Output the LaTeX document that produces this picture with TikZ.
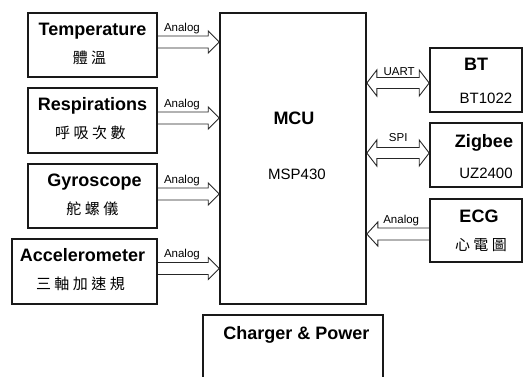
\documentclass[tikz,border=0pt]{standalone}
\usepackage{fontspec}
\setmainfont{Liberation Sans}
\newfontfamily\cjk{Noto Sans CJK TC}
\usetikzlibrary{calc}
\newcommand\cs{\hspace{3.5pt}}
% single block arrow, head at #2 pointing right
\newcommand\fatright[2]{\draw[arr] let \p1=(#1), \p2=(#2) in
  (\x1,\y1+6pt) -- (\x2-11pt,\y1+6pt) -- (\x2-11pt,\y1+11pt) -- (\x2,\y1)
  -- (\x2-11pt,\y1-11pt) -- (\x2-11pt,\y1-6pt) -- (\x1,\y1-6pt);}
% single block arrow, head at #2 pointing left
\newcommand\fatleft[2]{\draw[arr] let \p1=(#1), \p2=(#2) in
  (\x1,\y1+6pt) -- (\x2+11pt,\y1+6pt) -- (\x2+11pt,\y1+12pt) -- (\x2,\y1)
  -- (\x2+11pt,\y1-12pt) -- (\x2+11pt,\y1-6pt) -- (\x1,\y1-6pt);}
% double block arrow between #1 (left) and #2 (right)
\newcommand\fatboth[2]{\draw[arr] let \p1=(#1), \p2=(#2) in
  (\x1,\y1) -- (\x1+10pt,\y1+13pt) -- (\x1+10pt,\y1+5.5pt) -- (\x2-10pt,\y1+5.5pt)
  -- (\x2-10pt,\y1+13pt) -- (\x2,\y1) -- (\x2-10pt,\y1-13pt) -- (\x2-10pt,\y1-5.5pt)
  -- (\x1+10pt,\y1-5.5pt) -- (\x1+10pt,\y1-13pt) -- cycle;}
\tikzset{
  box/.style={draw=black!90, line width=1.6pt, inner sep=0pt},
  arr/.style={draw=black!85, line width=0.9pt, line join=miter},
  ttl/.style={font=\fontsize{18}{20}\selectfont\bfseries, inner sep=0pt, anchor=base},
  sub/.style={font=\fontsize{15}{17}\selectfont, inner sep=0pt, anchor=base},
  zh/.style={font=\fontsize{15}{17}\selectfont\cjk, inner sep=0pt},
  lbl/.style={font=\fontsize{11.5}{13}\selectfont, inner sep=0pt, anchor=base},
}
\begin{document}
\begin{tikzpicture}[x=1pt,y=-1pt]
\useasboundingbox (0,0) rectangle (523,376);
% left sensor boxes
\node[box, minimum width=129pt, minimum height=64pt] (temp) at (92.5,45) {};
\node[box, minimum width=129pt, minimum height=65pt] (resp) at (92.5,120.5) {};
\node[box, minimum width=129pt, minimum height=64pt] (gyro) at (92.5,196) {};
\node[box, minimum width=145pt, minimum height=65pt] (acc) at (84.5,271.5) {};
\node[ttl] (tempT) at ($(temp.north)+(0,23)$) {Temperature};
\node[zh]  (tempC) at ($(temp.north)+(-3,46)$) {體\cs 溫};
\node[ttl] (respT) at ($(resp.north)+(0,23)$) {Respirations};
\node[zh]  (respC) at ($(resp.north)+(-2,46)$) {呼\cs 吸\cs 次\cs 數};
\node[ttl] (gyroT) at ($(gyro.north)+(2,23)$) {Gyroscope};
\node[zh]  (gyroC) at ($(gyro.north)+(0,46)$) {舵\cs 螺\cs 儀};
\node[ttl] (accT) at ($(acc.north)+(-2,23)$) {Accelerometer};
\node[zh]  (accC) at ($(acc.north)+(-4,46)$) {三\cs 軸\cs 加\cs 速\cs 規};
% MCU
\node[box, minimum width=146pt, minimum height=291pt] (mcu) at (293,158.5) {};
\node[ttl] (mcuT) at (294,124) {MCU};
\node[sub] (mcuS) at (297,179) {MSP430};
% right boxes
\node[box, minimum width=92pt, minimum height=64pt] (bt) at (476,80) {};
\node[box, minimum width=92pt, minimum height=64pt] (zig) at (476,155) {};
\node[box, minimum width=92pt, minimum height=63pt] (ecg) at (476,230.5) {};
\node[ttl] (btT) at ($(bt.north)+(0,23)$) {BT};
\node[sub] (btS) at ($(bt.north)+(10,56)$) {BT1022};
\node[ttl] (zigT) at ($(zig.north)+(8,25)$) {Zigbee};
\node[sub] (zigS) at ($(zig.north)+(10,56)$) {UZ2400};
\node[ttl] (ecgT) at ($(ecg.north)+(3,24)$) {ECG};
\node[zh]  (ecgC) at ($(ecg.north)+(5,47)$) {心\cs 電\cs 圖};
% charger
\draw[box] (203,378) |- (383,315) -- (383,378);
\node[ttl] (chgT) at (296.5,339) {Charger \& Power};
% arrow anchor points
\coordinate (a1) at ($(temp.east)+(0,-3)$);
\coordinate (a2) at ($(resp.east)+(0,-2.5)$);
\coordinate (a3) at ($(gyro.east)+(0,-2)$);
\coordinate (a4) at ($(acc.east)+(0,-3)$);
\coordinate (b1) at ($(bt.west)+(0,3)$);
\coordinate (b2) at ($(zig.west)+(0,-2)$);
\coordinate (b3) at ($(ecg.west)+(0,3.5)$);
\fatright{a1}{mcu.west |- a1}
\fatright{a2}{mcu.west |- a2}
\fatright{a3}{mcu.west |- a3}
\fatright{a4}{mcu.west |- a4}
\fatboth{mcu.east |- b1}{b1}
\fatboth{mcu.east |- b2}{b2}
\fatleft{b3}{mcu.east |- b3}
% labels
\node[lbl, anchor=base west] (l1) at ($(a1)+(6,-11)$) {Analog};
\node[lbl, anchor=base west] (l2) at ($(a2)+(6,-11)$) {Analog};
\node[lbl, anchor=base west] (l3) at ($(a3)+(6,-11)$) {Analog};
\node[lbl, anchor=base west] (l4) at ($(a4)+(6,-11)$) {Analog};
\node[lbl] (l5) at ($(b1)+(-30,-8)$) {UART};
\node[lbl] (l6) at ($(b2)+(-31,-12)$) {SPI};
\node[lbl] (l7) at ($(b3)+(-28,-11)$) {Analog};
\end{tikzpicture}
\end{document}
